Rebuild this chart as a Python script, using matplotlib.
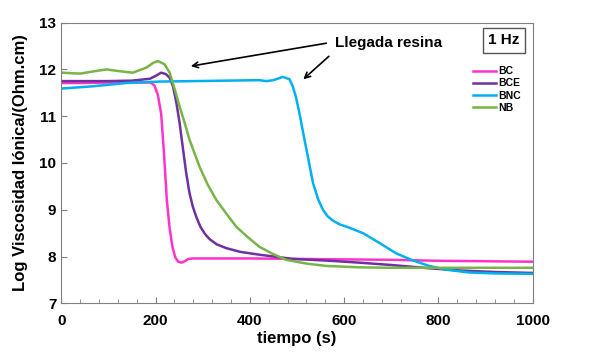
import numpy as np
import matplotlib
matplotlib.use('Agg')
import matplotlib.pyplot as plt
from matplotlib.ticker import MultipleLocator

plt.rcParams['font.family'] = ['Liberation Sans', 'DejaVu Sans']
plt.rcParams['font.weight'] = 'bold'

# datos
t_bc = [0, 50, 100, 150, 190, 198, 205, 212, 218, 224, 230, 236, 242, 248, 255, 262, 270, 280,
        300, 350, 400, 500, 600, 700, 800, 900, 1000]
y_bc = [11.71, 11.71, 11.72, 11.72, 11.72, 11.65, 11.45, 11.05, 10.2, 9.2, 8.6, 8.2, 7.98, 7.89,
        7.87, 7.9, 7.95, 7.96, 7.96, 7.96, 7.96, 7.95, 7.94, 7.93, 7.91, 7.9, 7.89]

t_bce = [0, 50, 100, 150, 188, 200, 212, 222, 230, 237, 244, 251, 258, 265, 272, 279, 286, 295,
         305, 315, 330, 350, 380, 420, 491, 570, 632, 700, 780, 850, 920, 1000]
y_bce = [11.75, 11.75, 11.75, 11.76, 11.8, 11.86, 11.93, 11.9, 11.82, 11.64, 11.3, 10.86, 10.32,
         9.79, 9.36, 9.07, 8.86, 8.64, 8.48, 8.37, 8.26, 8.18, 8.1, 8.04, 7.95, 7.91, 7.87, 7.82,
         7.75, 7.7, 7.67, 7.65]

t_bnc = [0, 68, 138, 209, 280, 350, 420, 435, 450, 470, 484, 491, 498, 505, 512, 520, 527, 534,
         545, 555, 565, 576, 590, 610, 640, 675, 710, 745, 780, 816, 865, 920, 1000]
y_bnc = [11.59, 11.64, 11.71, 11.74, 11.75, 11.76, 11.77, 11.75, 11.77, 11.84, 11.79, 11.64, 11.4,
         11.07, 10.7, 10.29, 9.93, 9.57, 9.22, 9.0, 8.86, 8.77, 8.69, 8.62, 8.5, 8.29, 8.07, 7.92,
         7.8, 7.72, 7.66, 7.64, 7.63]

t_nb = [0, 40, 70, 96, 125, 152, 181, 195, 205, 219, 230, 240, 251, 262, 272, 283, 293, 310, 329,
        350, 371, 395, 420, 450, 477, 520, 562, 632, 700, 800, 900, 1000]
y_nb = [11.93, 11.91, 11.96, 12.0, 11.96, 11.93, 12.04, 12.14, 12.18, 12.11, 11.93, 11.6, 11.21,
        10.85, 10.5, 10.2, 9.93, 9.55, 9.21, 8.92, 8.64, 8.42, 8.21, 8.05, 7.93, 7.85, 7.8, 7.77,
        7.76, 7.76, 7.76, 7.76]

series = [('BC', t_bc, y_bc, '#FF33CC'),
          ('BCE', t_bce, y_bce, '#7030A0'),
          ('BNC', t_bnc, y_bnc, '#00B0F0'),
          ('NB', t_nb, y_nb, '#77B546')]

fig = plt.figure(figsize=(6, 3.59), dpi=100)
ax = fig.add_axes([0.102, 0.155, 0.786, 0.782])

for nombre, t, y, c in series:
    ax.plot(t, y, color=c, lw=1.8, label=nombre)

ax.set_xlim(0, 1000)
ax.set_ylim(7, 13)
ax.xaxis.set_major_locator(MultipleLocator(200))
ax.xaxis.set_minor_locator(MultipleLocator(40))
ax.yaxis.set_major_locator(MultipleLocator(1))
ax.tick_params(axis='both', which='both', direction='in', colors='#808080',
               labelcolor='black', labelsize=11)
ax.tick_params(axis='both', which='major', length=4)
ax.tick_params(axis='both', which='minor', length=3)
ax.tick_params(axis='x', pad=8)
for s in ax.spines.values():
    s.set_color('#808080')

ax.set_xlabel('tiempo (s)', fontsize=12, fontweight='bold', labelpad=2)
ax.set_ylabel('Log Viscosidad Iónica/(Ohm.cm)', fontsize=12, fontweight='bold', labelpad=8)

# anotaciones
ax.text(581, 12.56, 'Llegada resina', fontsize=11, fontweight='bold', va='center', ha='left')
ax.annotate('', xy=(269, 12.06), xytext=(568, 12.57),
            arrowprops=dict(arrowstyle='->', color='black', lw=1.2))
ax.annotate('', xy=(509, 11.75), xytext=(572, 12.32),
            arrowprops=dict(arrowstyle='->', color='black', lw=1.2))

ax.text(938, 12.62, '1 Hz', fontsize=11, fontweight='bold', ha='center', va='center',
        bbox=dict(boxstyle='square,pad=0.35', fc='white', ec='#555555', lw=1))

leg = ax.legend(loc='upper right', bbox_to_anchor=(0.99, 0.87), frameon=False,
                fontsize=7.5, handlelength=2.2, handletextpad=0.2, labelspacing=0.2,
                borderpad=0.2)

fig.savefig('out.png', dpi=100)
